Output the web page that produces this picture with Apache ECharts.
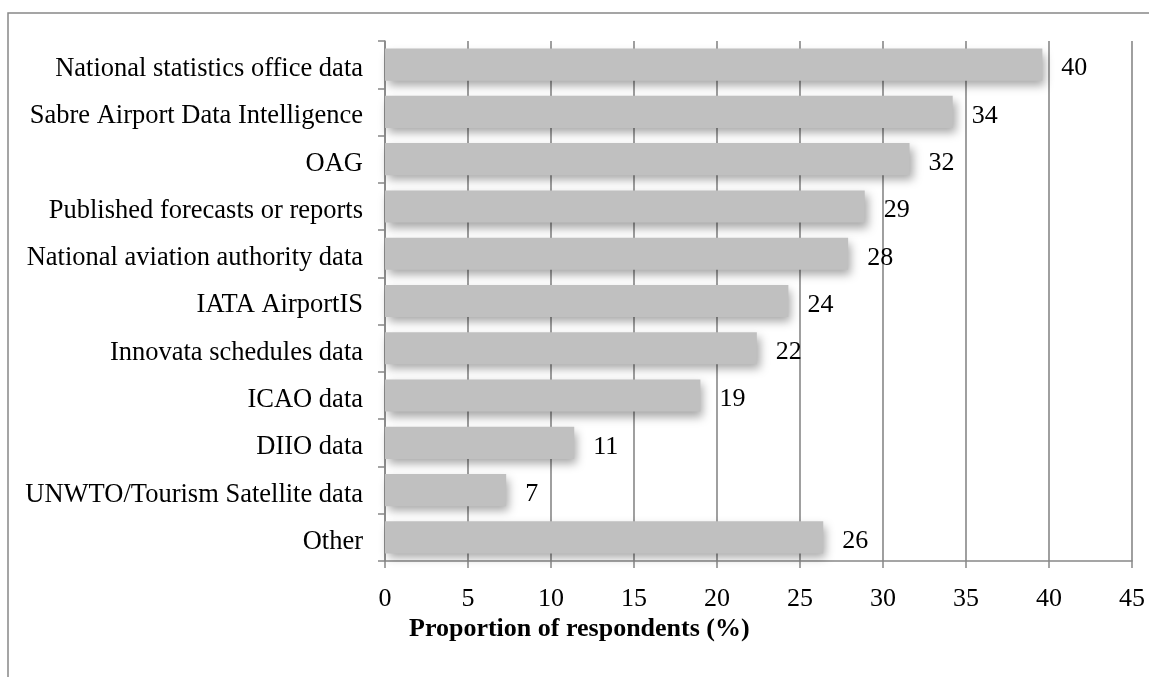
<!DOCTYPE html>
<html lang="en">
<head>
    <meta charset="UTF-8">
    <title>Data sources</title>
    <style>
        html, body { margin: 0; padding: 0; background: #fff; }
        #main { width: 1149px; height: 677px; }
    </style>
    <script src="https://cdn.jsdelivr.net/npm/echarts@6/dist/echarts.min.js"></script>
</head>
<body>
<div id="main"></div>
<script>
// categories, top to bottom
var categories = [
    'National statistics office data',
    'Sabre Airport Data Intelligence',
    'OAG',
    'Published forecasts or reports',
    'National aviation authority data',
    'IATA AirportIS',
    'Innovata schedules data',
    'ICAO data',
    'DIIO data',
    'UNWTO/Tourism Satellite data',
    'Other'
];
// bar lengths (%)
var values = [39.6, 34.2, 31.6, 28.9, 27.9, 24.3, 22.4, 19.0, 11.4, 7.3, 26.4];
var xTicks = [0, 5, 10, 15, 20, 25, 30, 35, 40, 45];

var serif = "'Liberation Serif', 'Times New Roman', serif";
var grey = '#888888';

var chart = echarts.init(document.getElementById('main'));
var option = {
    backgroundColor: '#fff',
    animation: false,
    grid: { left: 385, right: 17, top: 41, bottom: 116 },
    xAxis: {
        type: 'value',
        min: xTicks[0],
        max: xTicks[xTicks.length - 1],
        interval: 5,
        axisLine: { show: true, lineStyle: { color: grey, width: 1.5 } },
        axisTick: { show: true, length: 7, lineStyle: { color: grey, width: 1.5 } },
        axisLabel: { margin: 25, color: '#000', fontFamily: serif, fontSize: 26 },
        splitLine: { show: true, lineStyle: { color: grey, width: 1.6 } }
    },
    yAxis: {
        type: 'category',
        inverse: true,
        data: categories,
        axisLine: { show: true, lineStyle: { color: grey, width: 1.5 } },
        axisTick: { show: true, length: 7, lineStyle: { color: grey, width: 1.5 } },
        axisLabel: {
            margin: 22, color: '#000', fontFamily: serif, fontSize: 26.5,
            formatter: function (v) { return '{a|' + v + '}'; },
            rich: {
                a: { color: '#000', fontFamily: serif, fontSize: 26.5, padding: [9, 0, 0, 0] }
            }
        }
    },
    series: [{
        type: 'bar',
        data: values,
        barCategoryGap: '32%',
        itemStyle: {
            color: '#c0c0c0',
            shadowColor: 'rgba(0,0,0,0.35)',
            shadowBlur: 9,
            shadowOffsetX: 3,
            shadowOffsetY: 5
        },
        label: {
            show: true,
            position: 'right',
            distance: 19,
            offset: [0, 4],
            color: '#000',
            fontFamily: serif,
            fontSize: 26,
            formatter: function (p) { return Math.round(p.value); }
        }
    }],
    graphic: [
        {
            type: 'polyline',
            silent: true,
            shape: { points: [[8, 677], [8, 13], [1149, 13]] },
            style: { stroke: grey, lineWidth: 1.5, fill: null }
        },
        {
            type: 'text',
            left: 409,
            top: 616,
            style: {
                text: 'Proportion of respondents (%)',
                fill: '#000',
                font: 'bold 26px ' + serif
            }
        }
    ]
};
chart.setOption(option);
</script>
</body>
</html>
